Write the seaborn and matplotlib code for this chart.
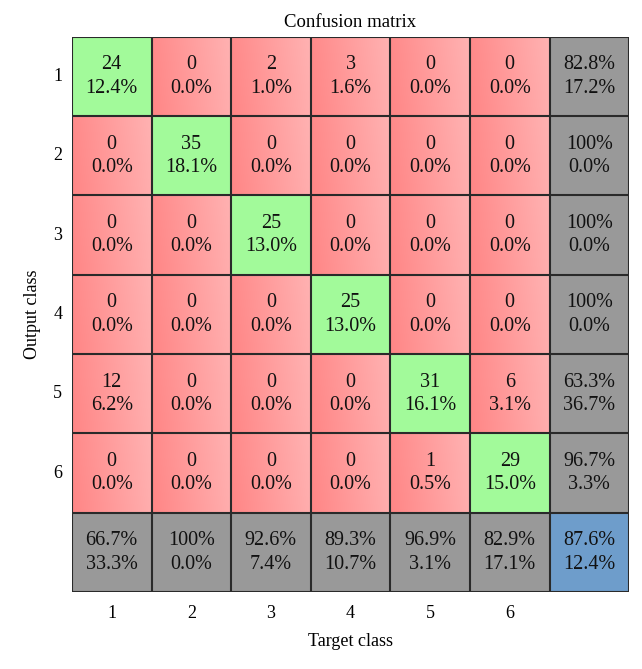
import numpy as np
import pandas as pd
import seaborn as sns
import matplotlib.pyplot as plt
from matplotlib.colors import ListedColormap, LinearSegmentedColormap

# counts: rows = output class, columns = target class
CLASSES = ["1", "2", "3", "4", "5", "6"]
ROW_1 = [24, 0, 2, 3, 0, 0]
ROW_2 = [0, 35, 0, 0, 0, 0]
ROW_3 = [0, 0, 25, 0, 0, 0]
ROW_4 = [0, 0, 0, 25, 0, 0]
ROW_5 = [12, 0, 0, 0, 31, 6]
ROW_6 = [0, 0, 0, 0, 1, 29]

counts = np.array([ROW_1, ROW_2, ROW_3, ROW_4, ROW_5, ROW_6])
n = len(CLASSES)
total = counts.sum()

plt.rcParams["font.family"] = ["Liberation Serif", "DejaVu Serif"]

# category grid: 0 = off-diagonal, 1 = diagonal, 2 = summary, 3 = overall
cat = np.zeros((n + 1, n + 1), dtype=int)
for i in range(n):
    cat[i, i] = 1
cat[:n, n] = 2
cat[n, :n] = 2
cat[n, n] = 3

labels = [["" for _ in range(n + 1)] for _ in range(n + 1)]
for i in range(n):
    for j in range(n):
        labels[i][j] = f"{counts[i, j]}\n{100 * counts[i, j] / total:.1f}%"


def pct_pair(hit, tot):
    p = 100 * hit / tot
    top = "100%" if round(p, 1) == 100 else f"{p:.1f}%"
    return f"{top}\n{100 - p:.1f}%"


for i in range(n):
    labels[i][n] = pct_pair(counts[i, i], counts[i, :].sum())
    labels[n][i] = pct_pair(counts[i, i], counts[:, i].sum())
labels[n][n] = pct_pair(np.trace(counts), total)

df = pd.DataFrame(cat, index=CLASSES + [""], columns=CLASSES + [""])
cmap = ListedColormap(["#ff9c9c", "#a2fa9a", "#999999", "#6e9dcb"])

fig = plt.figure(figsize=(6.42, 6.69), dpi=100)
ax = fig.add_axes([0.112, 0.115, 0.868, 0.83])
sns.heatmap(df, cmap=cmap, vmin=-0.5, vmax=3.5, cbar=False, annot=np.array(labels),
            fmt="", annot_kws={"fontsize": 14.5, "color": "#111111", "linespacing": 1.3},
            ax=ax, linewidths=0)

# red cell gradient (darker on the left, lighter on the right)
grad_cmap = LinearSegmentedColormap.from_list("red_grad", ["#ff8686", "#ffb2b2"])
gx = np.linspace(0, 1, 64)
gy = np.linspace(0.1, 0, 16)
grad = np.clip(gx[None, :] * 0.9 + gy[:, None], 0, 1)
for i in range(n):
    for j in range(n):
        if cat[i, j] == 0:
            ax.imshow(grad, cmap=grad_cmap, vmin=0, vmax=1, aspect="auto",
                      extent=(j, j + 1, i + 1, i), zorder=1.5, interpolation="bilinear")
for t in ax.texts:
    t.set_zorder(4)

ax.hlines(np.arange(n + 2), 0, n + 1, colors="#2a2a2a", linewidth=1.5, zorder=3)
ax.vlines(np.arange(n + 2), 0, n + 1, colors="#2a2a2a", linewidth=1.5, zorder=3)
ax.set_xlim(0, n + 1)
ax.set_ylim(n + 1, 0)

ax.tick_params(length=0, labelsize=13)
ax.tick_params(axis="y", pad=7)
ax.tick_params(axis="x", pad=9)
ax.set_yticklabels(CLASSES + [""], rotation=0)
ax.set_xticklabels(CLASSES + [""], rotation=0)
ax.set_title("Confusion matrix", fontsize=13.5, pad=7)
ax.set_xlabel("Target class", fontsize=13, labelpad=8)
ax.set_ylabel("Output class", fontsize=13, labelpad=9)

fig.savefig("out.png", dpi=100)
